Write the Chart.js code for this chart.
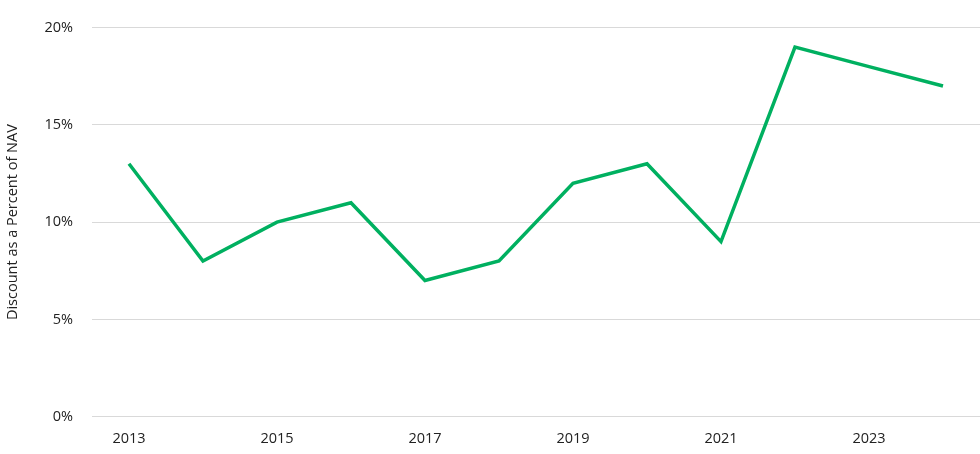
<!DOCTYPE html>
<html><head><meta charset="utf-8">
<script src="https://cdn.jsdelivr.net/npm/chart.js@4"></script>
<style>html,body{margin:0;padding:0;background:#fff}#w{width:980px;height:454px}</style>
</head><body><div id="w"><canvas id="c"></canvas></div>
<script>
const years = ['2013','2014','2015','2016','2017','2018','2019','2020','2021','2022','2023','2024'];
const discount = [13, 8, 10, 11, 7, 8, 12, 13, 9, 19, 18, 17];
const yTicks = [0, 5, 10, 15, 20];
Chart.defaults.font.family = '"Open Sans", sans-serif';
Chart.defaults.color = '#222';
new Chart(document.getElementById('c'), {
  type: 'line',
  data: { labels: years, datasets: [{ data: discount, borderColor: '#00b060', borderWidth: 3.5, pointRadius: 0, tension: 0, fill: false }] },
  options: {
    responsive: true, maintainAspectRatio: false, animation: false,
    layout: { padding: { top: -8, right: 0, bottom: 0, left: 0 } },
    plugins: { legend: { display: false }, tooltip: { enabled: false } },
    scales: {
      x: { offset: true, grid: { display: false }, border: { display: false },
        ticks: { autoSkip: false, maxRotation: 0, font: { size: 14.5 }, padding: 6,
          callback: (v, i) => i % 2 === 0 ? years[i] : '' } },
      y: { min: 0, max: 20, afterBuildTicks: a => { a.ticks = yTicks.map(v => ({ value: v })); },
        grid: { color: '#d9d9d9', lineWidth: 1, drawTicks: false }, border: { display: false },
        ticks: { font: { size: 14.5 }, padding: 19, callback: v => v + '%' },
        title: { display: true, text: 'Discount as a Percent of NAV', font: { size: 14.5 }, padding: { bottom: 4 } } }
    }
  }
});
</script></body></html>
